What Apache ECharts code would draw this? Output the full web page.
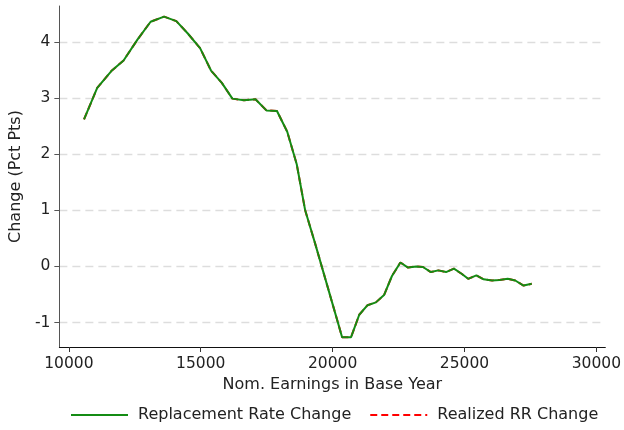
<!DOCTYPE html>
<html>
<head>
<meta charset="utf-8">
<script src="https://cdn.jsdelivr.net/npm/echarts@6/dist/echarts.min.js"></script>
<style>
    html, body { margin: 0; padding: 0; background: #fff; }
    #chart { width: 624px; height: 430px; }
</style>
</head>
<body>
<div id="chart"></div>
<script>
// earnings in base year (x)
var earnings = [10575, 11075, 11610, 12075, 12600, 13100, 13610, 14075, 14510, 14975,
    15390, 15800, 16200, 16640, 17075, 17490, 17890, 18280, 18640, 18960,
    19330, 19680, 20030, 20360, 20700, 21010, 21325, 21640, 21950, 22250,
    22570, 22860, 23175, 23425, 23725, 24010, 24300, 24600, 24890, 25140,
    25450, 25725, 26050, 26325, 26640, 26925, 27240, 27550];
// replacement rate change (pct pts)
var rrChange = [2.62, 3.18, 3.48, 3.67, 4.04, 4.36, 4.45, 4.37, 4.15, 3.89,
    3.49, 3.27, 2.99, 2.96, 2.98, 2.78, 2.77, 2.40, 1.82, 1.00,
    0.42, -0.15, -0.72, -1.26, -1.26, -0.86, -0.69, -0.64, -0.51, -0.17,
    0.07, -0.02, 0.00, -0.01, -0.10, -0.07, -0.10, -0.04, -0.13, -0.22,
    -0.16, -0.23, -0.25, -0.24, -0.22, -0.25, -0.34, -0.31];
// realized RR change, sits under the green line
var realizedChange = [2.62, 3.18, 3.48, 3.67, 4.04, 4.36, 4.45, 4.37, 4.15, 3.89,
    3.49, 3.27, 2.99, 2.96, 2.98, 2.78, 2.77, 2.40, 1.82, 1.00,
    0.42, -0.15, -0.72, -1.26, -1.26, -0.86, -0.69, -0.64, -0.51, -0.17,
    0.07, -0.02, 0.00, -0.01, -0.10, -0.07, -0.10, -0.04, -0.13, -0.22,
    -0.16, -0.23, -0.25, -0.24, -0.22, -0.25, -0.34, -0.31];
var xTicks = [10000, 15000, 20000, 25000, 30000];
var yTicks = [-1, 0, 1, 2, 3, 4];

function pairs(xs, ys) {
    return xs.map(function (x, i) { return [x, ys[i]]; });
}

var font = 'DejaVu Sans';
var fs = 15.5;   // tick labels
var fsName = 16; // axis names + legend
var myChart = echarts.init(document.getElementById('chart'), null, { renderer: 'canvas' });
var option = {
    animation: false,
    backgroundColor: '#fff',
    textStyle: { fontFamily: font },
    grid: { left: 58, right: 16, top: 6, bottom: 83 },
    legend: {
        left: 70,
        top: 407,
        padding: 0,
        itemWidth: 57,
        itemHeight: 16,
        itemGap: 18,
        itemStyle: { opacity: 0 },
        data: ['Replacement Rate Change', 'Realized RR Change'],
        textStyle: { fontFamily: font, fontSize: fsName, color: '#222', padding: [0, 0, 0, 5] }
    },
    xAxis: {
        type: 'value',
        min: 9640,
        max: 30340,
        name: 'Nom. Earnings in Base Year',
        nameLocation: 'middle',
        nameGap: 24,
        nameTextStyle: { fontFamily: font, fontSize: fsName, color: '#222' },
        axisLine: { onZero: false, lineStyle: { color: '#111', width: 1 } },
        axisTick: { customValues: xTicks, length: 5, lineStyle: { color: '#333' } },
        axisLabel: {
            customValues: xTicks, margin: 9, fontFamily: font, fontSize: fs, color: '#222',
            formatter: function (v) { return String(v); }
        },
        splitLine: { show: false }
    },
    yAxis: {
        type: 'value',
        min: -1.435,
        max: 4.64,
        name: 'Change (Pct Pts)',
        nameLocation: 'middle',
        nameGap: 34,
        nameTextStyle: { fontFamily: font, fontSize: fsName, color: '#222' },
        axisLine: { show: true, lineStyle: { color: '#555', width: 1 } },
        axisTick: { show: true, customValues: yTicks, length: 5, lineStyle: { color: '#555' } },
        axisLabel: { customValues: yTicks, margin: 9, fontFamily: font, fontSize: fs, color: '#222' },
        splitLine: { show: true, lineStyle: { color: '#dddddd', width: 1.3, type: [8, 5] } }
    },
    series: [
        {
            name: 'Replacement Rate Change',
            type: 'line',
            symbol: 'none',
            z: 3,
            data: pairs(earnings, rrChange),
            lineStyle: { color: '#148c14', width: 2 },
            itemStyle: { color: '#148c14' }
        },
        {
            name: 'Realized RR Change',
            type: 'line',
            symbol: 'none',
            z: 2,
            data: pairs(earnings, realizedChange),
            lineStyle: { color: '#ff0000', width: 2, type: [7, 4] },
            itemStyle: { color: '#ff0000' }
        }
    ]
};
myChart.setOption(option);
</script>
</body>
</html>
